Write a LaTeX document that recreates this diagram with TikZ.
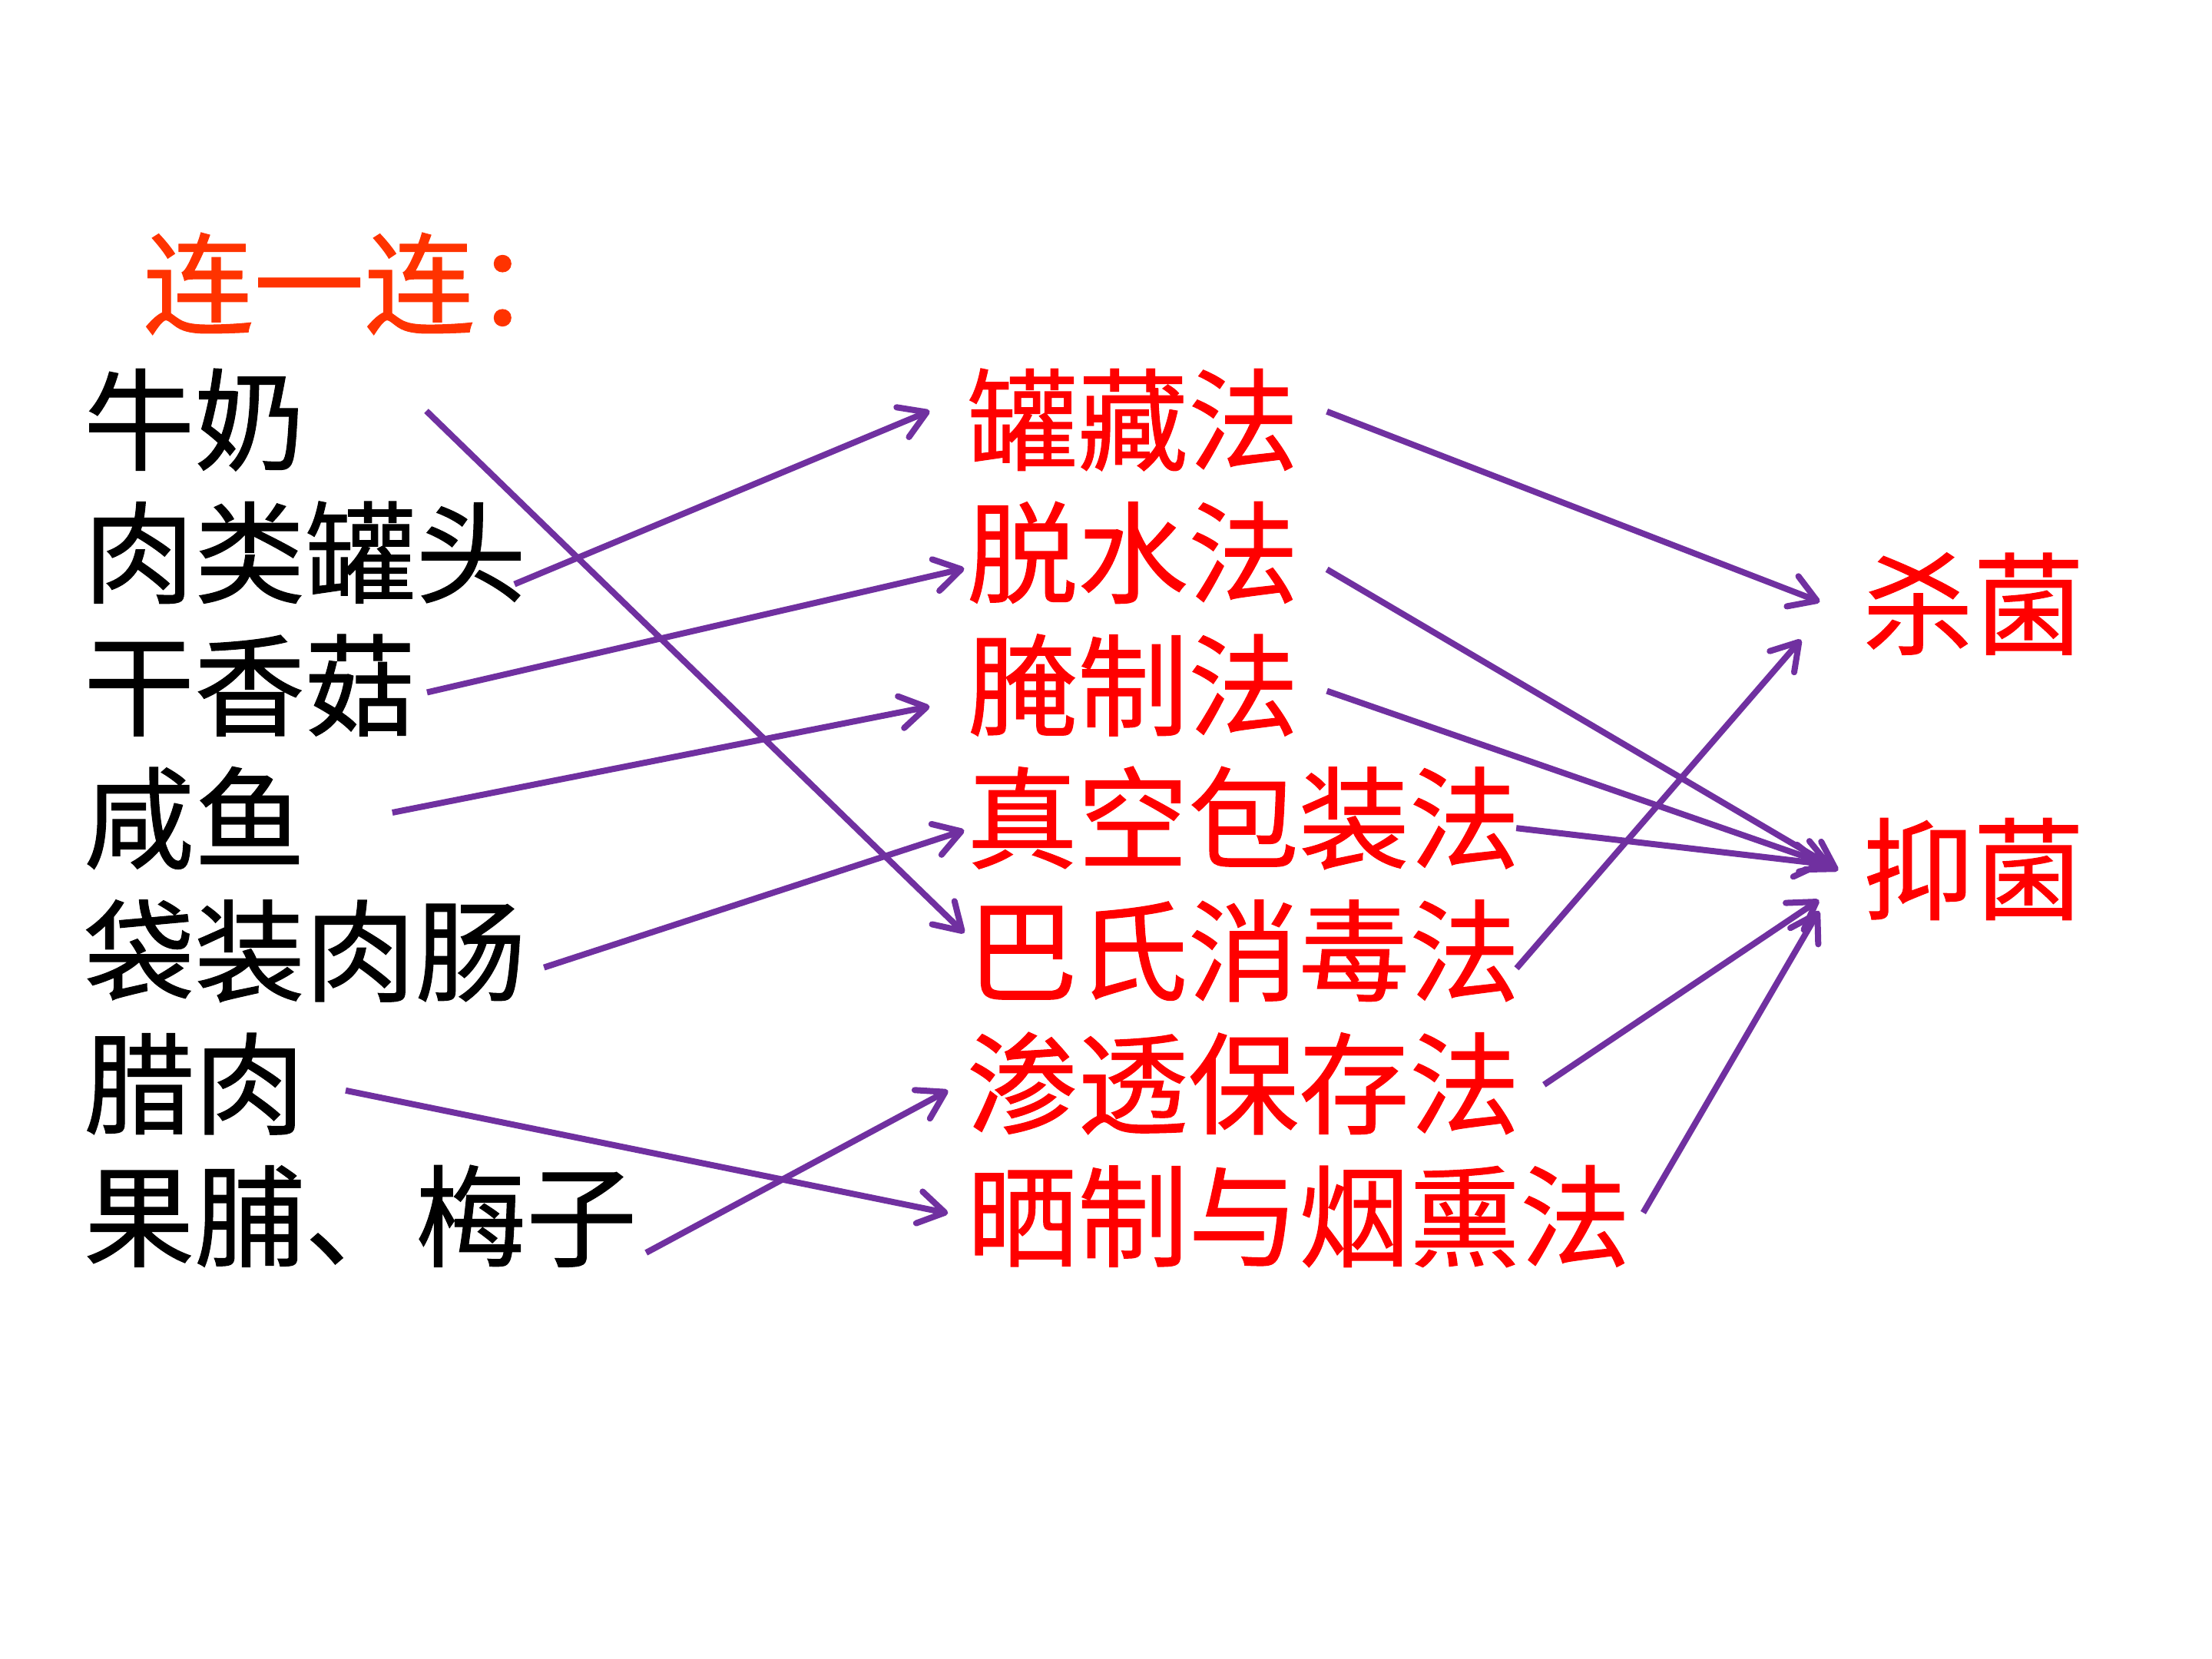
\documentclass[tikz,border=0pt]{standalone}
\usepackage{fontspec}
\newfontfamily\cjk[FakeBold=0.8]{Noto Sans CJK SC}
\usetikzlibrary{arrows.meta}
\definecolor{lnk}{HTML}{7030A0}
\definecolor{ttl}{HTML}{FF3300}
\definecolor{rd}{HTML}{FF0000}
\tikzset{
  txt/.style={font=\cjk\fontsize{36pt}{40pt}\selectfont, inner sep=0pt, anchor=west, text height=31.7pt, text depth=4.3pt},
  item/.style={txt, text=black},
  method/.style={txt, text=rd},
  effect/.style={txt, text=rd},
  heading/.style={txt, text=ttl},
  link/.style={draw=lnk, line width=2pt, -{Straight Barb[length=8.5pt,width=10.5pt,round]}},
}
\begin{document}
\begin{tikzpicture}[x=0.45918pt, y=-0.45918pt]
\useasboundingbox[fill=white] (0,0) rectangle (1568,1176);
% heading
\node[heading] (title) at (101,201) {连一连：};
% left column
\node[item] (milk)    at (59,297.5) {牛奶};
\node[item] (canmeat) at (59,391.6) {肉类罐头};
\node[item] (mush)    at (59,485.7) {干香菇};
\node[item] (fish)    at (59,579.8) {咸鱼};
\node[item] (saus)    at (59,673.9) {袋装肉肠};
\node[item] (bacon)   at (59,768)   {腊肉};
\node[item] (fruit)   at (59,862)   {果脯、梅子};
% middle column
\node[method] (can)    at (685,297.5) {罐藏法};
\node[method] (dehyd)  at (685,391.6) {脱水法};
\node[method] (pickle) at (685,485.7) {腌制法};
\node[method] (vacuum) at (685,579.8) {真空包装法};
\node[method] (past)   at (685,673.9) {巴氏消毒法};
\node[method] (osmo)   at (685,768)   {渗透保存法};
\node[method] (smoke)  at (685,862)   {晒制与烟熏法};
% right column
\node[effect] (kill)    at (1320,428) {杀菌};
\node[effect] (inhibit) at (1320,616) {抑菌};
% left -> middle
\draw[link] ([shift={(243.2,-6.2)}]milk.west)    -- ([shift={(-1.5,-12.5)}]past.west);
\draw[link] ([shift={(305.7,22.5)}]canmeat.west) -- ([shift={(-26,-6.2)}]can.west);
\draw[link] ([shift={(243.7,5.1)}]mush.west)     -- ([shift={(-1.5,11.4)}]dehyd.west);
\draw[link] ([shift={(219.1,-3.8)}]fish.west)    -- ([shift={(-26,15.1)}]pickle.west);
\draw[link] ([shift={(326.6,11.9)}]saus.west)    -- ([shift={(-1.5,8.8)}]vacuum.west);
\draw[link] ([shift={(186,5)}]bacon.west)        -- ([shift={(-13,-2)}]smoke.west);
\draw[link] ([shift={(399,26)}]fruit.west)       -- ([shift={(-13,5)}]osmo.west);
% middle -> right
\draw[link] ([shift={(255.6,-5.8)}]can.west)     -- ([shift={(-30,-1.4)}]kill.west);
\draw[link] ([shift={(255.6,12)}]dehyd.west)     -- ([shift={(-17,1)}]inhibit.west);
\draw[link] ([shift={(255.6,4.1)}]pickle.west)   -- ([shift={(-21.6,-2.2)}]inhibit.west);
\draw[link] ([shift={(389.8,7.2)}]vacuum.west)   -- ([shift={(-27,-3.5)}]inhibit.west);
\draw[link] ([shift={(390,12.5)}]past.west)      -- ([shift={(-43.3,25.4)}]kill.west);
\draw[link] ([shift={(409.5,0.9)}]osmo.west)     -- ([shift={(-30.6,22)}]inhibit.west);
\draw[link] ([shift={(479.8,-2.4)}]smoke.west)   -- ([shift={(-30.6,29.7)}]inhibit.west);
\end{tikzpicture}
\end{document}
